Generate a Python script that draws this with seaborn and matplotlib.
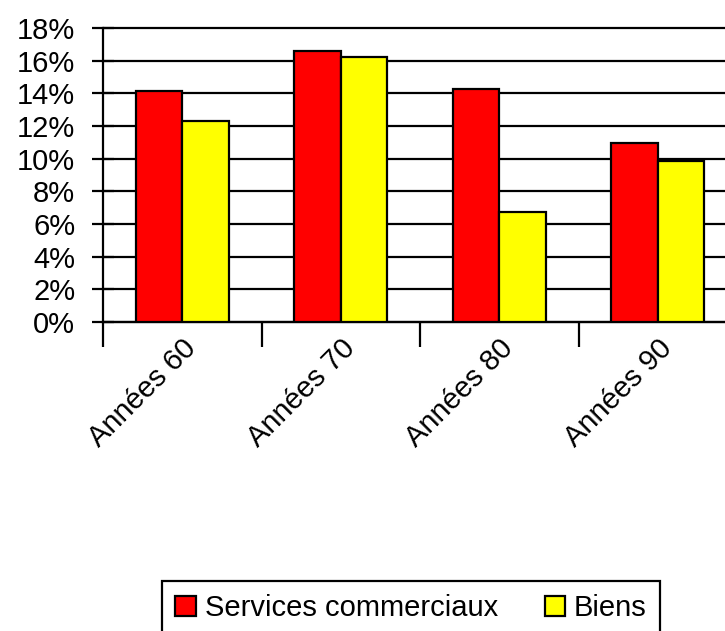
import pandas as pd
import seaborn as sns
import matplotlib.pyplot as plt
from matplotlib.patches import Patch
from matplotlib.ticker import FixedLocator

# ------------------------------ data ------------------------------
decades = ['Années 60', 'Années 70', 'Années 80', 'Années 90']
services = [14.15, 16.6, 14.25, 10.95]
biens = [12.3, 16.25, 6.75, 9.85]
series = ['Services commerciaux', 'Biens']
colors = ['#ff0000', '#ffff00']
y_ticks = list(range(0, 19, 2))

df = pd.DataFrame({'decade': decades * 2,
                   'serie': [series[0]] * 4 + [series[1]] * 4,
                   'value': services + biens})

sns.set_style('white')
plt.rcParams['font.family'] = ['Liberation Sans', 'DejaVu Sans']
plt.rcParams['text.color'] = 'black'

# ------------------------------ plot ------------------------------
fig = plt.figure(figsize=(7.25, 6.31), dpi=100)
ax = fig.add_axes([103 / 725, 1 - 322 / 631, 634 / 725, 294 / 631])

sns.barplot(data=df, x='decade', y='value', hue='serie', palette=colors,
            width=0.586, edgecolor='black', linewidth=1.6, saturation=1,
            ax=ax, legend=False, zorder=3)

ax.set_xlim(-0.5, 3.5)
ax.set_ylim(0, 18)
ax.set_yticks(y_ticks)
ax.set_yticklabels([f'{t}%' for t in y_ticks], fontsize=21)
ax.yaxis.grid(True, color='black', linewidth=1.6)
for gl in ax.get_ygridlines():
    gl.set_clip_on(False)
ax.set_axisbelow(True)
ax.set_xlabel('')
ax.set_ylabel('')

for side in ['top', 'right']:
    ax.spines[side].set_visible(False)
for side in ['left', 'bottom']:
    ax.spines[side].set_color('black')
    ax.spines[side].set_linewidth(1.6)

ax.tick_params(axis='y', left=True, direction='inout', length=16, width=1.6, pad=12,
               color='black', labelcolor='black')
ax.tick_params(axis='x', which='major', bottom=False, length=0, pad=9, labelcolor='black')
ax.xaxis.set_minor_locator(FixedLocator([-0.5, 0.5, 1.5, 2.5, 3.5]))
ax.tick_params(axis='x', which='minor', bottom=True, direction='out', length=18, width=1.6,
               color='black')
plt.setp(ax.get_xticklabels(), rotation=45, ha='right', rotation_mode='anchor', fontsize=21)

handles = [Patch(facecolor=c, edgecolor='black', linewidth=1.6) for c in colors]
leg = fig.legend(handles, series, loc='upper center', bbox_to_anchor=(411 / 725, 1 - 581 / 631),
                 borderaxespad=0, ncol=2, fontsize=21, frameon=True, fancybox=False,
                 framealpha=1, edgecolor='black', handlelength=0.7, handleheight=0.7,
                 handletextpad=0.3, columnspacing=1.6, borderpad=0.45)
leg.get_frame().set_linewidth(1.6)

plt.savefig('out.png', dpi=100)
